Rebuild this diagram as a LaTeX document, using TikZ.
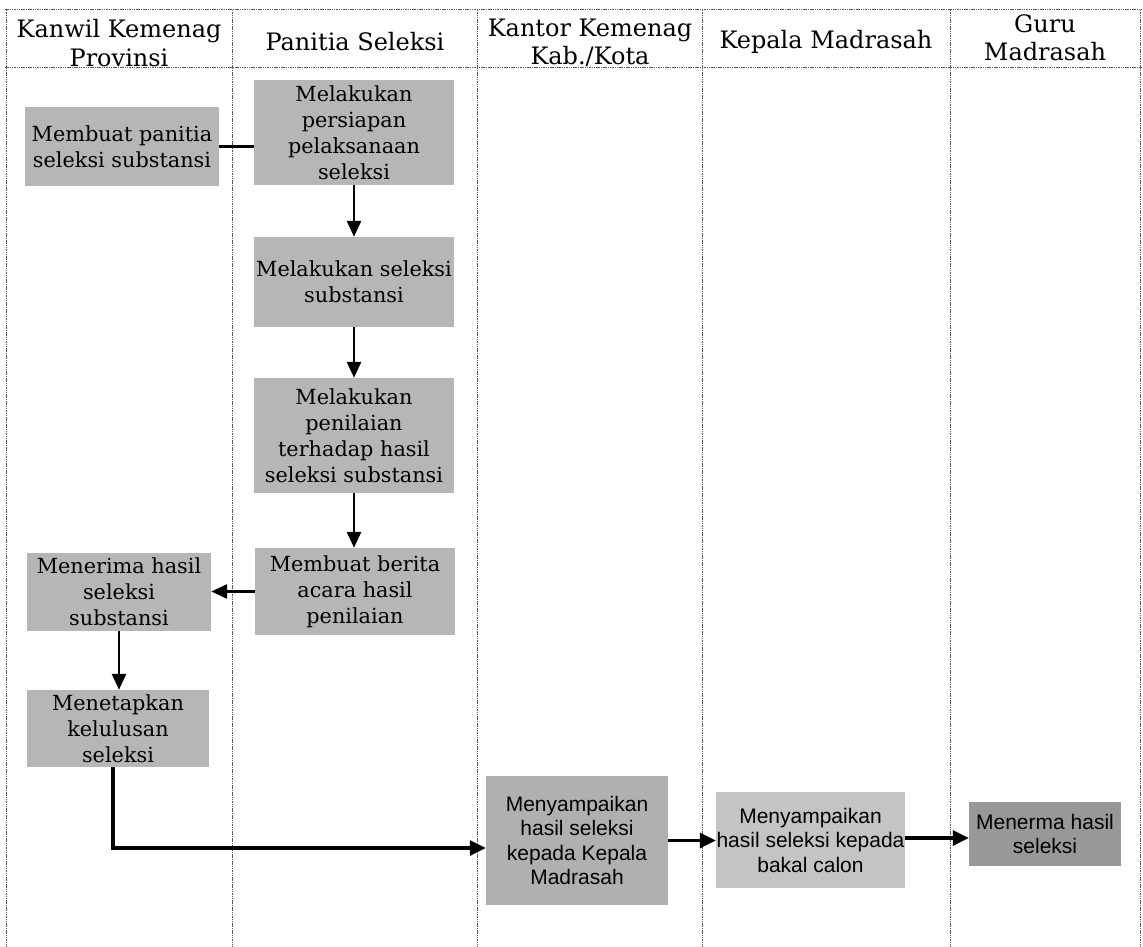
\documentclass[tikz,border=0pt]{standalone}
\usepackage{fontspec}
\setmainfont{DejaVu Serif}
\newfontfamily\sansf{Liberation Sans}
\usetikzlibrary{arrows.meta}
\definecolor{boxgray}{RGB}{182,182,182}
\definecolor{boxgrayH}{RGB}{176,176,176}
\definecolor{boxgrayI}{RGB}{196,196,196}
\definecolor{boxgrayJ}{RGB}{152,152,152}
\definecolor{rulegray}{RGB}{90,90,90}
\tikzset{
  lane/.style={draw=rulegray, line width=1pt, dash pattern=on 1.5pt off 0.8pt},
  head/.style={align=center, font=\fontsize{24}{28.5}\selectfont, inner sep=0pt},
  sbox/.style={fill=boxgray, inner sep=0pt, align=center,
    font=\fontsize{20.8}{26}\selectfont},
  abox/.style={inner sep=0pt, align=center,
    font=\sansf\fontsize{21}{24.5}\selectfont},
  arr/.style={line width=2.8pt, -{Triangle[length=16pt,width=14pt]}},
  arrb/.style={line width=3.2pt, -{Triangle[length=16pt,width=15pt]}},
  link/.style={line width=2.8pt}
}
\begin{document}
\begin{tikzpicture}[x=1pt,y=-1pt]
\useasboundingbox (0,0) rectangle (1143,947);
% lanes
\draw[lane] (5,10) -- (1142,10);
\draw[lane] (5,68) -- (1142,68);
\foreach \x in {6,232,477,702,950,1140}
  \draw[lane] (\x,10) -- (\x,947);
% headers
\node[head] (h1) at (119,43) {Kanwil Kemenag\\Provinsi};
\node[head] (h2) at (355,42) {Panitia Seleksi};
\node[head] (h3) at (590,43) {Kantor Kemenag\\Kab./Kota};
\node[head] (h4) at (826,42) {Kepala Madrasah};
\node[head] (h5) at (1045,38) {Guru\\Madrasah};
% boxes
\node[sbox, minimum width=194pt, minimum height=79pt] (A) at (122,146.5) {Membuat panitia\\seleksi substansi};
\node[sbox, minimum width=200pt, minimum height=105pt] (B) at (354,132.5) {Melakukan\\persiapan\\pelaksanaan\\seleksi};
\node[sbox, minimum width=200pt, minimum height=90pt] (C) at (354,282) {Melakukan seleksi\\substansi};
\node[sbox, minimum width=200pt, minimum height=115pt] (D) at (354,435.5) {Melakukan\\penilaian\\terhadap hasil\\seleksi substansi};
\node[sbox, minimum width=200pt, minimum height=87pt] (E) at (355,591.5) {Membuat berita\\acara hasil\\penilaian};
\node[sbox, minimum width=184pt, minimum height=78pt] (F) at (119,592) {Menerima hasil\\seleksi\\substansi};
\node[sbox, minimum width=182pt, minimum height=77pt] (G) at (118,728.5) {Menetapkan\\kelulusan\\seleksi};
\node[abox, fill=boxgrayH, minimum width=182pt, minimum height=129pt] (H) at (577,840.5) {Menyampaikan\\hasil seleksi\\kepada Kepala\\Madrasah};
\node[abox, fill=boxgrayI, minimum width=189pt, minimum height=96pt] (I) at (810.5,840) {Menyampaikan\\hasil seleksi kepada\\bakal calon};
\node[abox, fill=boxgrayJ, minimum width=152pt, minimum height=64pt] (J) at (1045,834) {Menerma hasil\\seleksi};
% connectors
\draw[link] (A.east) -- (A.east -| B.west);
\draw[arr] (B.south) -- (B.south |- C.north);
\draw[arr] (C.south) -- (C.south |- D.north);
\draw[arr] (D.south) -- (D.south |- E.north);
\draw[arr] (E.west) -- (E.west -| F.east);
\draw[arr] (F.south) -- (F.south |- G.north);
\draw[arrb] ([xshift=-5pt]G.south) |- ([yshift=-7.5pt]H.west);
\draw[arrb] (H.east) -- (H.east -| I.west);
\draw[arrb] ([yshift=2pt]I.east) -- ([yshift=2pt]I.east -| J.west);
\end{tikzpicture}
\end{document}
